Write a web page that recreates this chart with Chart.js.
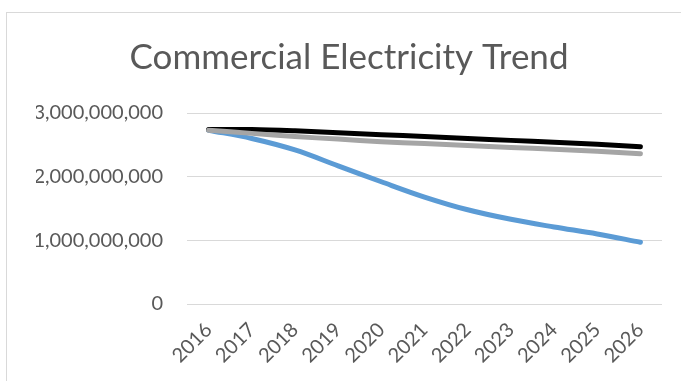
<!DOCTYPE html>
<html>
<head>
<meta charset="utf-8">
<script src="https://cdn.jsdelivr.net/npm/chart.js@4"></script>
<style>
html,body{margin:0;padding:0;background:#fff;overflow:hidden;}
#wrap{position:relative;width:681px;height:381px;}
#frame{position:absolute;left:6px;top:12px;width:700px;height:400px;border:1px solid #d9d9d9;box-sizing:border-box;}
canvas{position:absolute;left:0;top:0;}
</style>
</head>
<body>
<div id="wrap">
<div id="frame"></div>
<canvas id="c" width="681" height="381"></canvas>
</div>
<script>
const years = ['2016','2017','2018','2019','2020','2021','2022','2023','2024','2025','2026'];
const blueSeries  = [2.73e9, 2.60e9, 2.42e9, 2.17e9, 1.92e9, 1.68e9, 1.48e9, 1.33e9, 1.21e9, 1.10e9, 0.97e9];
const blackSeries = [2.74e9, 2.74e9, 2.72e9, 2.69e9, 2.66e9, 2.63e9, 2.60e9, 2.57e9, 2.54e9, 2.51e9, 2.47e9];
const graySeries  = [2.73e9, 2.68e9, 2.63e9, 2.59e9, 2.55e9, 2.52e9, 2.49e9, 2.46e9, 2.43e9, 2.40e9, 2.36e9];
const yTicks = [0, 1e9, 2e9, 3e9];

const fontFam = 'Lato, "Open Sans", sans-serif';
new Chart(document.getElementById('c'), {
  type: 'line',
  data: {
    labels: years,
    datasets: [
      {label:'Series 1', data: blueSeries, borderColor:'#5b9bd5', order:2},
      {label:'Series 2', data: blackSeries, borderColor:'#000000', order:1},
      {label:'Series 3', data: graySeries, borderColor:'#a5a5a5', order:0}
    ]
  },
  options: {
    responsive:false, animation:false,
    elements:{
      line:{borderWidth:5, tension:0.35, borderCapStyle:'round', borderJoinStyle:'round', fill:false},
      point:{radius:0}
    },
    layout:{padding:{left:36,right:19,top:0,bottom:0}},
    plugins:{
      legend:{display:false},
      tooltip:{enabled:false},
      title:{display:true, text:'Commercial Electricity Trend', color:'#595959',
        font:{family:fontFam, size:35, weight:'normal'}, padding:{top:37,bottom:34}}
    },
    scales:{
      x:{
        offset:true,
        grid:{display:false, drawTicks:false},
        border:{display:false},
        ticks:{color:'#595959', font:{family:fontFam, size:20}, maxRotation:45, minRotation:45, padding:14, autoSkip:false},
        afterFit(s){ s.height = 77; }
      },
      y:{
        min:0, max:3e9,
        afterBuildTicks(s){ s.ticks = yTicks.map(v=>({value:v})); },
        grid:{color:'#d9d9d9', lineWidth:1, drawTicks:false},
        border:{display:false},
        ticks:{color:'#595959', font:{family:fontFam, size:20}, padding:24,
          callback:v=>v.toLocaleString('en-US')},
        afterFit(s){ s.width = 151; }
      }
    }
  }
});
</script>
</body>
</html>
